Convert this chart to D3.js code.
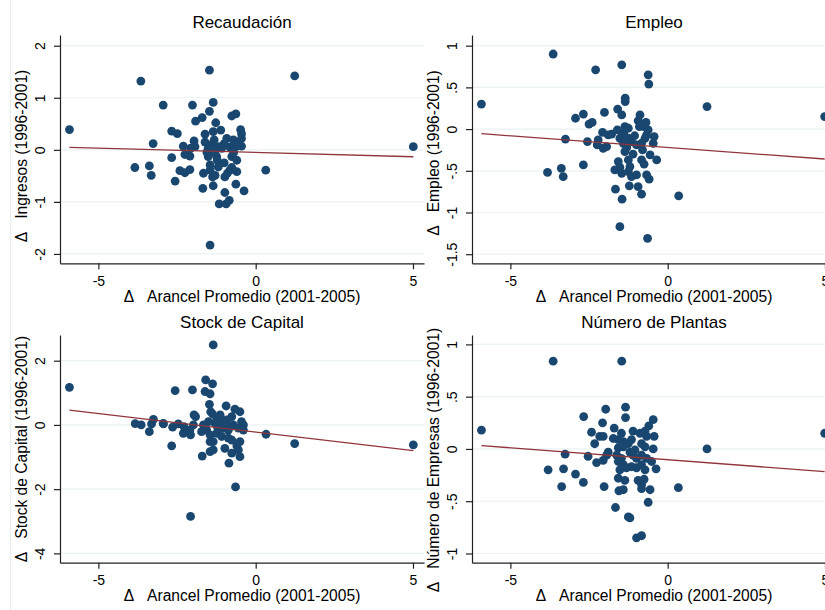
<!DOCTYPE html>
<html><head><meta charset="utf-8">
<script src="https://cdn.jsdelivr.net/npm/d3@7"></script>
<style>
body{margin:0;background:#fff}
svg{display:block}
text{font-family:"Liberation Sans",Arial,Helvetica,sans-serif;fill:#000}
</style>
</head><body>
<svg id="chart" width="825" height="610"></svg>
<script>
// ---------- text ----------
const panelTitles = ["Recaudación", "Empleo", "Stock de Capital", "Número de Plantas"];
const yAxisTitles = [
  "Δ\u00a0\u00a0\u00a0Ingresos (1996-2001)",
  "Δ\u00a0\u00a0\u00a0Empleo (1996-2001)",
  "Δ\u00a0\u00a0\u00a0Stock de Capital (1996-2001)",
  "Δ\u00a0\u00a0\u00a0Número de Empresas (1996-2001)"
];
const xAxisTitle = "Δ\u00a0\u00a0\u00a0Arancel Promedio (2001-2005)";

// ---------- ticks ----------
const xTicks = [-5, 0, 5];
const xTickLabels = ["-5", "0", "5"];
const recTicks = [2, 1, 0, -1, -2];
const recTickLabels = ["2", "1", "0", "-1", "-2"];
const empTicks = [1, 0.5, 0, -0.5, -1, -1.5];
const empTickLabels = ["1", ".5", "0", "-.5", "-1", "-1.5"];
const capTicks = [2, 0, -2, -4];
const capTickLabels = ["2", "0", "-2", "-4"];
const plaTicks = [1, 0.5, 0, -0.5, -1];
const plaTickLabels = ["1", ".5", "0", "-.5", "-1"];

// ---------- data: Recaudación ----------
const recX = [-5.92,-3.65,-1.47,1.24,5.01,-1.45,-2.94,-2.01,-1.35,-1.47,-0.76,-0.63,-1.70,-1.91,-1.27,-2.67,-2.49,-1.61,-1.35,-1.11,-0.48,-0.45,-3.26,-1.96,-2.30,-1.61,-1.32,-0.92,-0.71,-0.45,-0.45,-1.93,-2.07,-1.51,-1.19,-1.08,-0.82,-0.60,-2.25,-2.09,-1.51,-1.24,-0.76,-2.67,-1.22,-0.60,-1.45,-1.19,-0.76,-3.84,-3.38,-3.32,-2.41,-2.09,-2.25,-1.66,-1.45,-1.29,-0.82,-0.60,-1.37,-0.98,-2.56,-1.68,-1.35,-0.63,-0.98,-0.37,-1.16,-0.94,-0.84,0.32,-1.40,-1.00,-0.70,-1.30,-1.00,-0.90,-1.55,-0.55];
const recY = [0.39,1.32,1.53,1.42,0.06,-1.83,0.86,0.86,0.91,0.74,0.65,0.69,0.62,0.55,0.52,0.36,0.31,0.30,0.35,0.38,0.39,0.31,0.12,0.17,0.07,0.15,0.19,0.22,0.19,0.22,0.07,0.06,0.03,0.03,0.06,0.03,0.05,0.07,-0.09,-0.12,-0.13,-0.13,-0.13,-0.15,-0.20,-0.20,-0.29,-0.33,-0.34,-0.34,-0.31,-0.49,-0.40,-0.38,-0.44,-0.45,-0.39,-0.49,-0.39,-0.42,-0.52,-0.52,-0.60,-0.74,-0.69,-0.66,-0.82,-0.79,-1.04,-1.04,-0.97,-0.39,0.10,0.12,-0.05,-0.05,-0.25,-0.45,-0.05,0.14];
const recFit = [-0.05, -0.0165]; // intercept, slope

// ---------- data: Empleo ----------
const empX = [-5.92,-3.64,-2.29,-1.46,-0.62,-0.60,-1.35,-1.35,1.25,4.99,-2.93,-2.68,-2.01,-1.59,-1.46,-2.50,-2.40,-0.88,-0.94,-0.69,-0.75,-0.62,-0.90,-1.36,-1.25,-1.60,-2.07,-1.89,-1.78,-3.25,-2.55,-2.21,-2.24,-2.05,-1.94,-1.52,-1.41,-1.25,-1.15,-0.99,-0.83,-0.72,-0.67,-0.43,-0.46,-0.56,-0.35,-1.36,-1.25,-0.83,-0.75,-3.82,-3.38,-3.32,-2.68,-1.57,-1.52,-1.68,-1.46,-1.25,-1.15,-0.99,-0.67,-0.59,-1.66,-1.22,-0.94,-0.83,-1.45,0.35,-1.52,-0.64,-1.30,-1.10,-1.40,-0.80,-1.20,-1.05];
const empY = [0.30,0.90,0.71,0.77,0.65,0.54,0.37,0.33,0.27,0.15,0.13,0.18,0.20,0.24,0.17,0.06,0.08,0.17,0.10,0.08,0.03,-0.01,0.03,0.03,0.01,-0.01,-0.04,-0.07,-0.06,-0.12,-0.15,-0.13,-0.19,-0.23,-0.21,-0.11,-0.17,-0.11,-0.15,-0.19,-0.17,-0.11,-0.07,-0.09,-0.17,-0.31,-0.37,-0.27,-0.37,-0.37,-0.42,-0.52,-0.47,-0.57,-0.43,-0.39,-0.46,-0.49,-0.53,-0.51,-0.57,-0.55,-0.55,-0.60,-0.72,-0.68,-0.69,-0.78,-0.84,-0.80,-1.17,-1.31,-0.22,-0.30,-0.05,-0.25,-0.45,-0.08];
const empFit = [-0.22, -0.0278];

// ---------- data: Stock de Capital ----------
const capX = [-5.92,-1.35,-1.59,-1.37,-2.56,-2.01,-1.61,-1.45,-1.47,-0.94,-1.43,-1.37,-0.66,-0.50,-1.96,-1.91,-1.13,-0.76,-0.92,-1.24,-0.45,-0.39,-2.94,-2.64,-2.46,-2.28,-1.98,-2.09,-2.30,-2.07,-1.66,-1.56,-1.72,-1.29,-1.13,-1.03,-0.87,-0.71,-0.55,-0.39,-1.45,-1.24,-1.08,-0.87,-0.76,-1.45,-1.35,-0.50,-2.67,-0.98,-0.60,-0.55,-1.45,-1.35,-1.70,-0.76,-0.50,0.33,-0.85,-0.64,-2.07,1.24,5.01,-3.83,-3.64,-3.31,-3.25,-3.38,-2.93,-1.20,-1.00,-0.80,-1.50];
const capY = [1.17,2.49,1.40,1.28,1.07,1.09,1.04,0.97,0.64,0.59,0.41,0.34,0.49,0.41,0.31,0.26,0.31,0.26,0.16,0.16,0.10,0.00,0.05,-0.07,0.03,-0.05,0.00,-0.16,-0.26,-0.31,0.00,-0.16,-0.21,0.05,0.00,-0.10,-0.16,0.00,-0.10,-0.16,-0.31,-0.26,-0.36,-0.41,-0.47,-0.52,-0.52,-0.52,-0.65,-0.73,-0.65,-0.78,-0.83,-0.78,-0.97,-0.88,-0.99,-0.29,-1.19,-1.93,-2.85,-0.58,-0.62,0.04,0.00,0.03,0.17,-0.21,0.03,-0.10,0.10,-0.05,0.10];
const capFit = [-0.221, -0.115];

// ---------- data: Número de Plantas ----------
const plaX = [-5.92,-3.64,-1.46,4.99,1.25,-3.80,-3.31,-3.37,-2.93,-2.68,-3.26,-1.97,-1.34,-2.67,-1.34,-0.46,-2.07,-1.70,-0.60,-2.42,-2.16,-2.05,-1.47,-1.10,-0.88,-0.72,-0.67,-0.43,-1.73,-1.57,-1.41,-1.25,-1.15,-2.32,-0.83,-0.72,-1.57,-1.41,-1.20,-1.04,-0.46,-2.53,-1.89,-1.94,-1.62,-1.47,-1.10,-0.99,-0.83,-0.67,-0.51,-2.26,-2.05,-1.57,-1.41,-1.52,-1.31,-1.15,-0.99,-0.83,-0.72,-0.37,-1.57,-1.36,-0.94,-0.75,-0.83,-2.02,-1.55,-1.41,-0.83,-0.56,0.34,-0.62,-1.66,-1.25,-1.20,-0.99,-0.83];
const plaY = [0.18,0.84,0.84,0.15,0.00,-0.20,-0.19,-0.36,-0.24,-0.32,-0.05,0.38,0.40,0.31,0.30,0.28,0.25,0.20,0.22,0.16,0.12,0.12,0.15,0.17,0.15,0.17,0.12,0.12,0.10,0.09,0.07,0.05,0.09,0.05,0.05,0.02,0.01,0.02,-0.03,-0.01,0.00,-0.07,-0.03,-0.06,-0.06,-0.09,-0.06,-0.09,-0.06,-0.09,-0.12,-0.13,-0.11,-0.12,-0.15,-0.20,-0.18,-0.17,-0.18,-0.15,-0.20,-0.19,-0.28,-0.30,-0.30,-0.29,-0.34,-0.36,-0.40,-0.39,-0.38,-0.39,-0.37,-0.51,-0.56,-0.65,-0.66,-0.85,-0.83];
const plaFit = [-0.103, -0.0228];

// ---------- assemble ----------
const series = [
  {xs: recX, ys: recY, fit: recFit, ticks: recTicks, labels: recTickLabels},
  {xs: empX, ys: empY, fit: empFit, ticks: empTicks, labels: empTickLabels},
  {xs: capX, ys: capY, fit: capFit, ticks: capTicks, labels: capTickLabels},
  {xs: plaX, ys: plaY, fit: plaFit, ticks: plaTicks, labels: plaTickLabels}
];
// layout (pixels) and axis ranges per panel
const layout = [
  {left: 60,  top: 35,  bottom: 263.3, yDom: [-2.18, 2.206], yTitleY: 156},
  {left: 472, top: 35,  bottom: 263.3, yDom: [-1.609, 1.128], yTitleY: 153},
  {left: 60,  top: 335, bottom: 562.7, yDom: [-4.29, 2.80], yTitleY: 449},
  {left: 472, top: 335, bottom: 562.7, yDom: [-1.088, 1.09], yTitleY: 460}
];
const plotW = 364;
const xDom = [-6.22, 5.35];

const svg = d3.select("#chart");
svg.append("rect").attr("width", 825).attr("height", 610).attr("fill", "#fff");
svg.append("line").attr("x1", 10.5).attr("x2", 10.5).attr("y1", 0).attr("y2", 610)
  .attr("stroke", "#e6eef0").attr("stroke-width", 1);

const COL_DOT = "#1a476f", COL_FIT = "#90353b", COL_GRID = "#eaf2f3", COL_AXIS = "#222";
const TICKFONT = "14px", TITLEFONT = "17px", AXTFONT = "15.6px";

series.forEach((s, i) => {
  const L = layout[i];
  const g = svg.append("g");
  const x = d3.scaleLinear().domain(xDom).range([L.left, L.left + plotW]);
  const y = d3.scaleLinear().domain(L.yDom).range([L.bottom, L.top]);

  // gridlines
  g.append("g").selectAll("line").data(s.ticks).join("line")
    .attr("x1", L.left).attr("x2", L.left + plotW)
    .attr("y1", d => y(d)).attr("y2", d => y(d))
    .attr("stroke", COL_GRID).attr("stroke-width", 1.2);

  // points
  const pts = s.xs.map((v, k) => [v, s.ys[k]]);
  g.append("g").selectAll("circle").data(pts).join("circle")
    .attr("cx", d => x(d[0])).attr("cy", d => y(d[1])).attr("r", 4.4)
    .attr("fill", COL_DOT);

  // fitted line
  const ext = d3.extent(s.xs);
  const line = d3.line().x(d => x(d)).y(d => y(s.fit[0] + s.fit[1] * d));
  g.append("path").attr("d", line(ext)).attr("fill", "none")
    .attr("stroke", COL_FIT).attr("stroke-width", 1.3);

  // y axis
  const ya = g.append("g").attr("transform", `translate(${L.left},0)`)
    .call(d3.axisLeft(y).tickValues(s.ticks).tickFormat((d, k) => s.labels[k])
      .tickSize(6).tickSizeOuter(0));
  ya.select(".domain").attr("stroke", COL_AXIS).attr("stroke-width", 1.2);
  ya.selectAll(".tick line").attr("stroke", COL_AXIS).attr("stroke-width", 1.2);
  ya.selectAll(".tick text").attr("x", null).attr("dy", null)
    .attr("text-anchor", "middle").attr("transform", "translate(-15,0) rotate(-90)")
    .style("font-size", TICKFONT).style("font-family", '"Liberation Sans",Arial,sans-serif').attr("fill", "#000");

  // x axis
  const xa = g.append("g").attr("transform", `translate(0,${L.bottom})`)
    .call(d3.axisBottom(x).tickValues(xTicks).tickFormat((d, k) => xTickLabels[k])
      .tickSize(6).tickSizeOuter(0));
  xa.select(".domain").attr("stroke", COL_AXIS).attr("stroke-width", 1.2);
  xa.selectAll(".tick line").attr("stroke", COL_AXIS).attr("stroke-width", 1.2);
  xa.selectAll(".tick text").attr("y", 22.7).attr("dy", null)
    .style("font-size", TICKFONT).style("font-family", '"Liberation Sans",Arial,sans-serif').attr("fill", "#000");

  // titles
  const cx = L.left + plotW / 2;
  g.append("text").attr("x", cx).attr("y", L.top - 7.5).attr("text-anchor", "middle")
    .style("font-size", TITLEFONT).text(panelTitles[i]);
  g.append("text").attr("x", cx).attr("y", L.bottom + 38.7).attr("text-anchor", "middle")
    .style("font-size", AXTFONT).text(xAxisTitle);
  g.append("text").attr("transform", `translate(${L.left - 33},${L.yTitleY}) rotate(-90)`)
    .attr("text-anchor", "middle").style("font-size", AXTFONT).text(yAxisTitles[i]);
});
</script>
</body></html>
